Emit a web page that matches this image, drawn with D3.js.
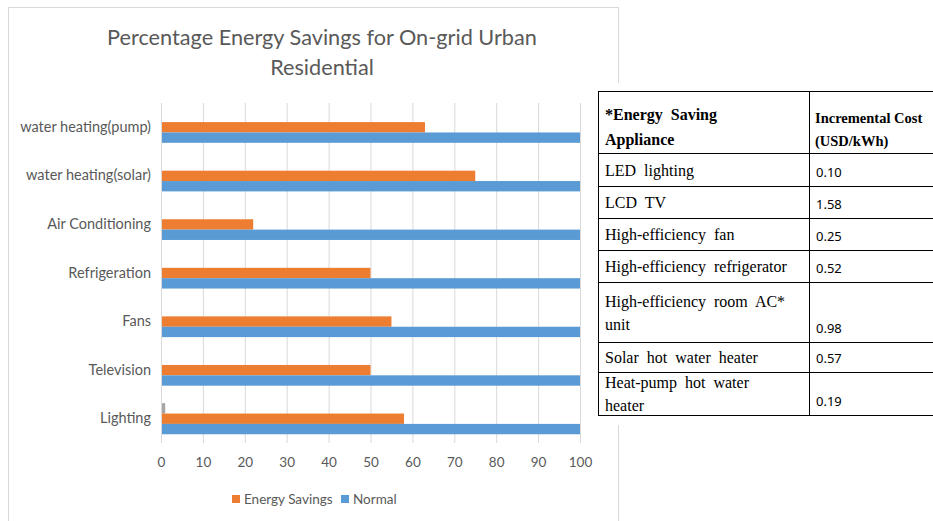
<!DOCTYPE html>
<meta charset="utf-8">
<style>
body { margin: 0; background: #fff; }
.chart text { font-family: Lato, "Open Sans", sans-serif; fill: #595959; }
.grid line { stroke: #d9d9d9; }
.tbl .serif { font-family: "Liberation Serif", "DejaVu Serif", serif; fill: #000; font-size: 16px; word-spacing: 4px; }
.tbl .num { font-family: "Noto Sans", "DejaVu Sans", sans-serif; fill: #000; font-size: 13px; }
</style>
<svg width="933" height="521"></svg>
<script src="https://d3js.org/d3.v7.min.js"></script>
<script>
let svg = d3.select("svg");

// chart data, top row first
let categories = ["water heating(pump)", "water heating(solar)", "Air Conditioning", "Refrigeration", "Fans", "Television", "Lighting"];
let savings = [63, 75, 22, 50, 55, 50, 58];
let normal = [100, 100, 100, 100, 100, 100, 100];
let extra = [0, 0, 0, 0, 0, 0, 1];   // the tiny grey bar by Lighting
let xTicks = [0, 10, 20, 30, 40, 50, 60, 70, 80, 90, 100];

// table data
let appliances = [["LED lighting"], ["LCD TV"], ["High-efficiency fan"], ["High-efficiency refrigerator"],
  ["High-efficiency room AC*", "unit"], ["Solar hot water heater"], ["Heat-pump hot water", "heater"]];
let costs = ["0.10", "1.58", "0.25", "0.52", "0.98", "0.57", "0.19"];

let series = [
  {key: "extra", values: extra, color: "#a5a5a5"},
  {key: "savings", values: savings, color: "#ed7d31"},
  {key: "normal", values: normal, color: "#5b9bd5"}
];

let chart = svg.append("g").attr("class", "chart");

// chart frame
chart.append("rect")
  .attr("x", 8.5).attr("y", 7.5).attr("width", 610).attr("height", 530)
  .attr("fill", "#fff").attr("stroke", "#d9d9d9");

let x = d3.scaleLinear().domain([0, 100]).range([161, 580]);
let y = d3.scaleBand().domain(categories).range([103, 443]).paddingInner(0.36).paddingOuter(0.18);
let sub = d3.scaleBand().domain(series.map(d => d.key)).range([0, y.bandwidth()]);

// gridlines
chart.append("g")
  .attr("class", "grid")
  .attr("transform", "translate(0,443)")
  .call(d3.axisBottom(x).tickValues(xTicks).tickSize(-340).tickFormat(""))
  .call(g => g.select(".domain").remove());

// x tick labels
chart.append("g")
  .attr("transform", "translate(0,443)")
  .call(d3.axisBottom(x).tickValues(xTicks).tickSize(0).tickPadding(14))
  .call(g => g.select(".domain").remove())
  .selectAll("text").attr("font-size", 13.5).attr("font-family", null);

// bars
series.forEach(s => {
  chart.append("g").selectAll("rect")
    .data(categories)
    .join("rect")
    .attr("x", x(0))
    .attr("y", (d) => y(d) + sub(s.key))
    .attr("width", (d, i) => x(s.values[i]) - x(0))
    .attr("height", sub.bandwidth())
    .attr("fill", s.color);
});

// y axis
chart.append("g")
  .attr("transform", "translate(161,0)")
  .call(d3.axisLeft(y).tickSize(0).tickPadding(10))
  .call(g => g.select(".domain").attr("stroke", "#d9d9d9").attr("d", "M0.5,103V443"))
  .selectAll("text").attr("font-size", 14.5).attr("font-family", null);

// title
chart.append("text")
  .attr("x", 322).attr("y", 45)
  .attr("text-anchor", "middle").attr("font-size", 21.7)
  .text("Percentage Energy Savings for On-grid Urban");
chart.append("text")
  .attr("x", 322).attr("y", 75)
  .attr("text-anchor", "middle").attr("font-size", 21.7)
  .text("Residential");

// legend
let legendItems = [{name: "Energy Savings", color: "#ed7d31", x: 232}, {name: "Normal", color: "#5b9bd5", x: 341}];
let legend = chart.append("g").selectAll("g").data(legendItems).join("g")
  .attr("transform", d => `translate(${d.x},495)`);
legend.append("rect").attr("width", 8).attr("height", 8).attr("fill", d => d.color);
legend.append("text").attr("x", 12).attr("y", 9).attr("font-size", 13.5).text(d => d.name);

// table pasted on the right
let tbl = svg.append("g").attr("class", "tbl");
tbl.append("rect").attr("x", 592).attr("y", 83).attr("width", 341).attr("height", 342).attr("fill", "#fff");

let rowLines = [91, 153, 186, 218, 250, 282, 342, 372, 415];
let left = 598.5, mid = 809.5, right = 940;

rowLines.forEach(v => {
  tbl.append("line").attr("x1", left).attr("x2", right).attr("y1", v + 0.5).attr("y2", v + 0.5)
    .attr("stroke", "#000").attr("stroke-width", 1);
});
[left, mid].forEach(v => {
  tbl.append("line").attr("x1", v).attr("x2", v).attr("y1", 91).attr("y2", 416)
    .attr("stroke", "#000").attr("stroke-width", 1);
});

// header
tbl.append("text").attr("class", "serif").attr("x", 605).attr("y", 120).attr("font-weight", "bold").text("*Energy Saving");
tbl.append("text").attr("class", "serif").attr("x", 605).attr("y", 145).attr("font-weight", "bold").text("Appliance");
tbl.append("text").attr("class", "serif").attr("x", 815).attr("y", 123).attr("font-weight", "bold")
  .style("font-size", "14.5px").style("word-spacing", "0px").text("Incremental Cost");
tbl.append("text").attr("class", "serif").attr("x", 815).attr("y", 146).attr("font-weight", "bold")
  .style("font-size", "14.5px").style("word-spacing", "0px").text("(USD/kWh)");

appliances.forEach((lines, i) => {
  let top = rowLines[i + 1], bottom = rowLines[i + 2];
  let centre = (top + bottom) / 2;
  lines.forEach((t, j) => {
    let yy = centre + (j - (lines.length - 1) / 2) * 23 + 6;
    tbl.append("text").attr("class", "serif").attr("x", 605).attr("y", yy).text(t);
  });
  tbl.append("text").attr("class", "num").attr("x", 816).attr("y", bottom - 9).text(costs[i]);
});
</script>
